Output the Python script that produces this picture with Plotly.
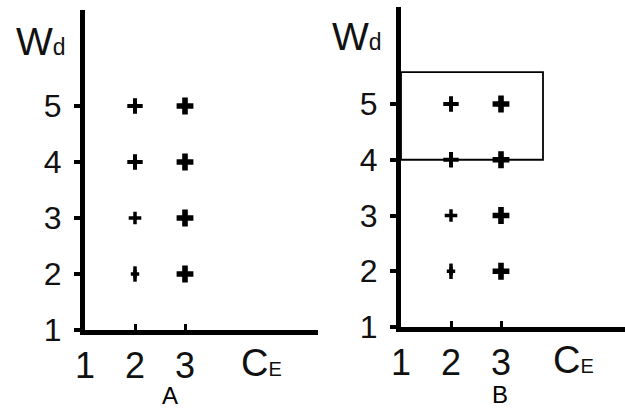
import plotly.graph_objects as go

# Grid of (C_E, W_d) combinations shown in both panels
ce_values = [2, 2, 2, 2, 3, 3, 3, 3]
wd_values = [5, 4, 3, 2, 5, 4, 3, 2]

# Marker glyph for each point (thin crosses in column 2, bold crosses in column 3)
point_symbols = ["cross-thin", "cross-thin", "cross-thin", "line-ns",
                 "cross", "cross", "cross", "cross"]
point_sizes = [11, 11, 9, 11, 14, 14, 14, 14]
point_widths = [4, 4, 3.5, 3.5, 0, 0, 0, 0]

# Extra short stub drawn on the (2, 2) point
stub_ce = [2]
stub_wd = [2]

x_ticks = [1, 2, 3]
y_ticks = [1, 2, 3, 4, 5]

# Highlighted region in panel B: C_E from 1 to ~3.84, W_d from 4 to ~5.57
box_ce = [1, 3.84]
box_wd = [4, 5.57]

W, H = 625, 410
FONT = "Liberation Sans, Arial, Helvetica, sans-serif"

fig = go.Figure()


def px_x(p):
    return p / W


def px_y(p):
    return (H - p) / H


panels = [
    # (x axis name, y axis name, left px, right px, bottom px, top px, x max, y max)
    ("x", "y", 85, 318, 330, 10, 1 + (318 - 85) / 50, 1 + (330 - 10) / 56),
    ("x2", "y2", 401, 625, 327, 7, 1 + (625 - 401) / 50, 1 + (327 - 7) / 55.75),
]

for xa, ya, left, right, bottom, top, xmax, ymax in panels:
    fig.add_trace(go.Scatter(
        x=ce_values, y=wd_values, xaxis=xa, yaxis=ya, mode="markers",
        marker=dict(symbol=point_symbols, size=point_sizes, color="black",
                    opacity=1,
                    line=dict(color="black", width=point_widths)),
        showlegend=False, hoverinfo="skip"))
    fig.add_trace(go.Scatter(
        x=stub_ce, y=stub_wd, xaxis=xa, yaxis=ya, mode="markers",
        marker=dict(symbol="cross-thin", size=6, color="black", opacity=1,
                    line=dict(color="black", width=3.5)),
        showlegend=False, hoverinfo="skip"))

    xkey = "xaxis" + xa[1:]
    ykey = "yaxis" + ya[1:]
    fig.update_layout({
        xkey: dict(domain=[px_x(left), px_x(right)], range=[1, xmax],
                   anchor=ya, showgrid=False, zeroline=False, automargin=False,
                   showline=True, linewidth=5, linecolor="black",
                   ticks="inside", ticklen=6, tickwidth=2.5, tickcolor="black",
                   tickvals=x_ticks, ticktext=[str(v) for v in x_ticks],
                   tickfont=dict(family=FONT, size=36, color="#111"),
                   ticklabelstandoff=0),
        ykey: dict(domain=[px_y(bottom), px_y(top)], range=[1, ymax],
                   anchor=xa, showgrid=False, zeroline=False, automargin=False,
                   showline=True, linewidth=5, linecolor="black",
                   ticks="outside", ticklen=6, tickwidth=3.5, tickcolor="black",
                   tickvals=y_ticks, ticktext=[str(v) for v in y_ticks],
                   tickfont=dict(family=FONT, size=32, color="#111"),
                   ticklabelstandoff=6),
    })

# Rectangle marking the upper region in panel B
fig.add_shape(type="rect", xref="x2", yref="y2",
              x0=box_ce[0], x1=box_ce[1], y0=box_wd[0], y1=box_wd[1],
              line=dict(color="black", width=1.8), fillcolor="rgba(0,0,0,0)")

annotations = []
for cx, wy, cex, cey, lx, ly, letter in [
    (41, 42, 261, 363, 170, 395, "A"),
    (357, 37, 573, 360, 500, 394, "B"),
]:
    annotations.append(dict(
        text="W<span style='font-size:23px'>d</span>",
        x=px_x(cx), y=px_y(wy), xref="paper", yref="paper",
        showarrow=False, font=dict(family=FONT, size=39, color="#111"),
        xanchor="center", yanchor="middle"))
    annotations.append(dict(
        text="C<span style='font-size:20px'>E</span>",
        x=px_x(cex), y=px_y(cey), xref="paper", yref="paper",
        showarrow=False, font=dict(family=FONT, size=38, color="#111"),
        xanchor="center", yanchor="middle"))
    annotations.append(dict(
        text=letter, x=px_x(lx), y=px_y(ly), xref="paper", yref="paper",
        showarrow=False, font=dict(family=FONT, size=24, color="black"),
        xanchor="center", yanchor="middle"))

fig.update_layout(
    template="none",
    width=W, height=H,
    margin=dict(l=0, r=0, t=0, b=0, pad=0),
    paper_bgcolor="white", plot_bgcolor="white",
    annotations=annotations,
)

fig.write_html("out.html")
